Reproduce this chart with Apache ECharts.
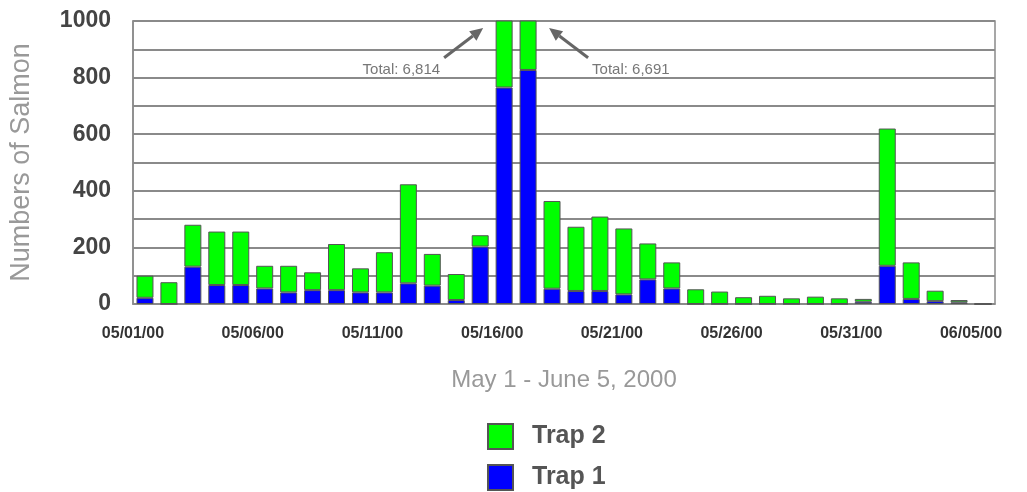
<!DOCTYPE html>
<html>
<head>
<meta charset="utf-8">
<script src="https://cdn.jsdelivr.net/npm/echarts@6/dist/echarts.min.js"></script>
<style>
  html, body { margin: 0; padding: 0; background: #fff; }
  #chart { width: 1027px; height: 492px; }
</style>
</head>
<body>
<div id="chart"></div>
<script>
// days, May 1 - June 5, 2000
const days = [
  "05/01/00", "05/02/00", "05/03/00", "05/04/00", "05/05/00", "05/06/00",
  "05/07/00", "05/08/00", "05/09/00", "05/10/00", "05/11/00", "05/12/00",
  "05/13/00", "05/14/00", "05/15/00", "05/16/00", "05/17/00", "05/18/00",
  "05/19/00", "05/20/00", "05/21/00", "05/22/00", "05/23/00", "05/24/00",
  "05/25/00", "05/26/00", "05/27/00", "05/28/00", "05/29/00", "05/30/00",
  "05/31/00", "06/01/00", "06/02/00", "06/03/00", "06/04/00", "06/05/00"
];
// salmon counts per trap
const trap1 = [22, 0, 132, 67, 67, 55, 41, 49, 49, 41, 41, 73,
  65, 14, 203, 765, 827, 54, 46, 46, 34, 87, 55, 0,
  0, 0, 0, 0, 0, 0, 8, 135, 18, 10, 6, 0];
const trap2 = [78, 77, 148, 189, 189, 80, 94, 63, 163, 85, 142, 350,
  112, 92, 40, 6049, 5864, 310, 227, 263, 233, 127, 92, 52,
  44, 24, 29, 20, 26, 20, 10, 485, 129, 37, 8, 0];
// days whose bars run off the top and get a "Total" note
const notedDays = ["05/16/00", "05/17/00"];

const font = 'Arial, "Liberation Sans", sans-serif';
const chart = echarts.init(document.getElementById("chart"));

chart.setOption({
  animation: false,
  grid: {
    left: 132, right: 32, top: 21, bottom: 188,
    show: true, borderColor: "#8a8a8a", borderWidth: 1.5
  },
  legend: {
    orient: "vertical",
    left: 487, top: 423,
    padding: 0,
    icon: "rect",
    itemWidth: 25, itemHeight: 25, itemGap: 14,
    data: ["Trap 2", "Trap 1"],
    textStyle: {
      fontFamily: font, fontSize: 25, fontWeight: "bold", color: "#555",
      padding: [0, 0, 0, 14]
    }
  },
  xAxis: {
    type: "category",
    data: days,
    name: "May 1 - June 5, 2000",
    nameLocation: "middle",
    nameGap: 64,
    nameTextStyle: { fontFamily: font, fontSize: 24, color: "#999" },
    axisLine: { lineStyle: { color: "#8a8a8a", width: 1.5 } },
    axisTick: { show: false },
    axisLabel: {
      interval: 4,
      margin: 22,
      padding: [0, 24, 0, 0],
      fontFamily: font, fontSize: 16, fontWeight: "bold", color: "#333"
    }
  },
  yAxis: {
    type: "value",
    min: 0, max: 1000, interval: 100,
    name: "Numbers of Salmon",
    nameLocation: "middle",
    nameGap: 98,
    nameTextStyle: { fontFamily: font, fontSize: 27, color: "#999" },
    axisLine: { show: true, lineStyle: { color: "#8a8a8a", width: 1.5 } },
    axisTick: { show: false },
    axisLabel: {
      margin: 22,
      formatter: v => (v % 200 === 0 ? String(v) : ""),
      fontFamily: font, fontSize: 23, fontWeight: "bold", color: "#444"
    },
    splitLine: { lineStyle: { color: "#8a8a8a", width: 2 } }
  },
  series: [
    {
      name: "Trap 1", type: "bar", stack: "salmon", data: trap1,
      barWidth: 17,
      itemStyle: { color: "#0000ff", borderColor: "#555", borderWidth: 1 }
    },
    {
      name: "Trap 2", type: "bar", stack: "salmon", data: trap2,
      barWidth: 17,
      itemStyle: { color: "#00ff00", borderColor: "#555", borderWidth: 1 }
    }
  ]
});

// "Total" notes with arrows pointing at the clipped bars
function arrow(x1, y1, x2, y2) {
  const ang = Math.atan2(y2 - y1, x2 - x1);
  const len = 13, half = 6;
  const bx = x2 - len * Math.cos(ang), by = y2 - len * Math.sin(ang);
  const px = -Math.sin(ang) * half, py = Math.cos(ang) * half;
  return [
    { type: "line", shape: { x1: x1, y1: y1, x2: bx, y2: by },
      style: { stroke: "#666", lineWidth: 3 } },
    { type: "polygon", shape: { points: [[x2, y2], [bx + px, by + py], [bx - px, by - py]] },
      style: { fill: "#666" } }
  ];
}

const graphics = [];
notedDays.forEach((d, k) => {
  const i = days.indexOf(d);
  const total = trap1[i] + trap2[i];
  const [cx] = chart.convertToPixel({ gridIndex: 0 }, [d, 0]);
  const yHead = chart.convertToPixel({ yAxisIndex: 0 }, 975);
  const yTail = chart.convertToPixel({ yAxisIndex: 0 }, 870);
  const yText = chart.convertToPixel({ yAxisIndex: 0 }, 828);
  const side = k === 0 ? -1 : 1;
  graphics.push(...arrow(cx + side * 60, yTail, cx + side * 21, yHead));
  graphics.push({
    type: "text",
    x: cx + side * 64, y: yText,
    style: {
      text: "Total: " + total.toLocaleString("en-US"),
      fontFamily: font, fontSize: 15, fill: "#777",
      align: side < 0 ? "right" : "left", verticalAlign: "middle"
    }
  });
});
chart.setOption({ graphic: graphics });
</script>
</body>
</html>
